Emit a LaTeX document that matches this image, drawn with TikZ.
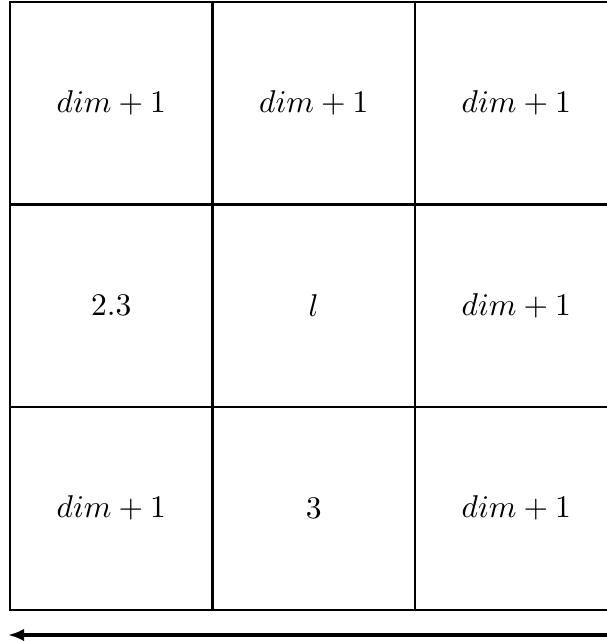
\documentclass[tikz,border=0pt]{standalone}
\usepackage{tikz}
\usetikzlibrary{arrows.meta}

\begin{document}
\begin{tikzpicture}[x=0.01116cm, y=-0.01116cm,
cell/.style={draw, line width=0.6pt, minimum size=2.26cm, inner sep=0pt, anchor=center},
arrow/.style={-{Latex[length=1.8mm, width=1.4mm]}, line width=1pt}
]
\useasboundingbox (0,0) rectangle (606,641);

\node[cell] (c11) at (111.25,103.25) {$dim+1$};
\node[cell] (c12) at (313.75,103.25) {$dim+1$};
\node[cell] (c13) at (516.25,103.25) {$dim+1$};

\node[cell] (c21) at (111.25,305.75) {$2.3$};
\node[cell] (c22) at (313.75,305.75) {$l$};
\node[cell] (c23) at (516.25,305.75) {$dim+1$};

\node[cell] (c31) at (111.25,508.25) {$dim+1$};
\node[cell] (c32) at (313.75,508.25) {$3$};
\node[cell] (c33) at (516.25,508.25) {$dim+1$};

\coordinate (arrR) at (620,635);
\coordinate (arrL) at (8,635);
\draw[arrow] (arrR) -- (arrL);

\end{tikzpicture}
\end{document}
